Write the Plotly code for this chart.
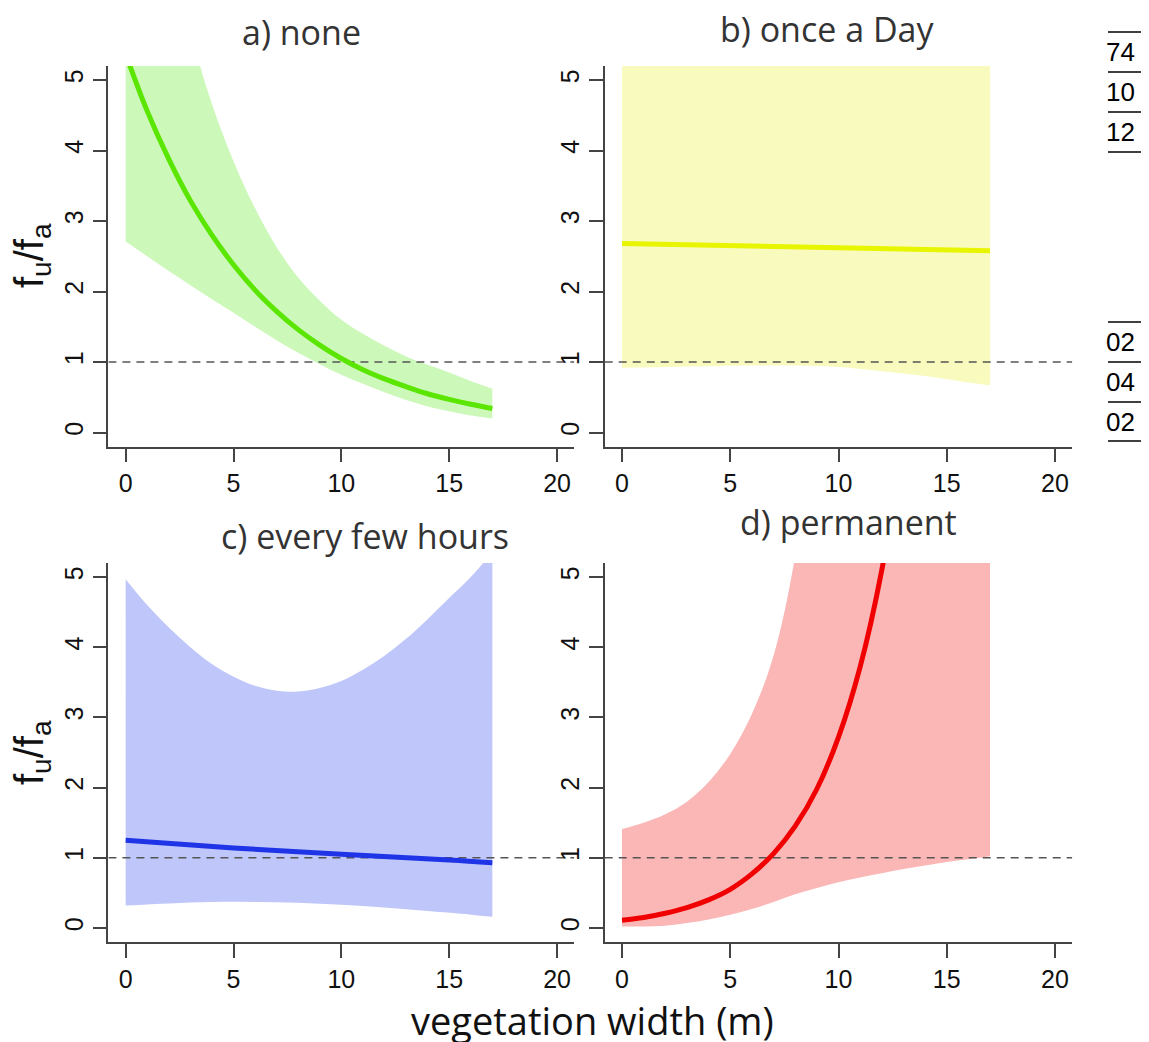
import plotly.graph_objects as go

# page body has an 8px margin, so the figure itself is 8px smaller
OFF = 8
W, H = 1149 - OFF, 1042 - OFF

# ---------------- data ----------------
# a) none
a_x = [0, 1, 2, 3, 4, 5, 6, 7, 8, 9, 10, 11, 12, 13, 14, 15, 16, 17]
a_fit = [5.37, 4.56, 3.88, 3.29, 2.80, 2.38, 2.02, 1.72, 1.46, 1.24, 1.05, 0.89, 0.76, 0.65, 0.55, 0.47, 0.40, 0.34]
a_upper = [10.5, 8.6, 7.0, 5.70, 4.66, 3.85, 3.18, 2.63, 2.20, 1.87, 1.60, 1.40, 1.23, 1.08, 0.96, 0.85, 0.73, 0.62]
a_lower = [2.71, 2.50, 2.29, 2.09, 1.89, 1.70, 1.50, 1.31, 1.13, 0.97, 0.82, 0.69, 0.57, 0.46, 0.37, 0.30, 0.24, 0.20]

# b) once a Day
b_x = [0, 17]
b_fit = [2.68, 2.58]
b_upper = [8.0, 8.0]
b_lx = [0, 2, 4, 6, 8, 10, 12, 14, 16, 17]
b_lower = [0.92, 0.93, 0.94, 0.95, 0.95, 0.93, 0.87, 0.80, 0.71, 0.67]

# c) every few hours
c_x = [0, 1, 2, 3, 4, 5, 6, 7, 8, 9, 10, 11, 12, 13, 14, 15, 16, 17]
c_upper = [4.97, 4.60, 4.28, 4.00, 3.76, 3.58, 3.45, 3.38, 3.37, 3.42, 3.52, 3.68, 3.88, 4.12, 4.40, 4.70, 5.00, 5.35]
c_fx = [0, 5, 10, 15, 17]
c_fit = [1.25, 1.14, 1.05, 0.97, 0.93]
c_lx = [0, 2, 4, 6, 8, 10, 12, 14, 16, 17]
c_lower = [0.32, 0.35, 0.37, 0.37, 0.36, 0.33, 0.29, 0.24, 0.19, 0.16]

# d) permanent
d_fx = [0, 1, 2, 3, 4, 5, 6, 7, 8, 9, 10, 11, 12, 13]
d_fit = [0.11, 0.15, 0.21, 0.29, 0.40, 0.55, 0.77, 1.06, 1.45, 1.98, 2.72, 3.72, 5.10, 7.00]
d_x = [0, 1, 2, 3, 4, 5, 6, 7, 8, 9, 10, 11, 12, 13, 14, 15, 16, 17]
d_upper = [1.41, 1.50, 1.62, 1.80, 2.08, 2.48, 3.05, 3.88, 5.30, 7.6, 10.5, 13.0, 15.0, 15.0, 15.0, 15.0, 15.0, 15.0]
d_lower = [0.02, 0.02, 0.03, 0.07, 0.12, 0.19, 0.27, 0.37, 0.48, 0.57, 0.65, 0.72, 0.78, 0.84, 0.89, 0.94, 0.98, 1.02]

titles = ["a) none", "b) once a Day", "c) every few hours", "d) permanent"]
x_ticks = [0, 5, 10, 15, 20]
y_ticks = [0, 1, 2, 3, 4, 5]
table_top = ["74", "10", "12"]
table_bottom = ["02", "04", "02"]

# ---------------- styling ----------------
band_cols = ["#ccf8b9", "#f8fbbd", "#bec6fa", "#fbb6b6"]
line_cols = ["#5ae600", "#e8f500", "#1e34e6", "#f00000"]


def px(x):
    return (x - OFF) / W


def py(y):
    return 1 - (y - OFF) / H


fig = go.Figure()

panels = [
    (a_x, a_lower, a_x, a_upper, a_x, a_fit),
    (b_lx, b_lower, b_x, b_upper, b_x, b_fit),
    (c_lx, c_lower, c_x, c_upper, c_fx, c_fit),
    (d_x, d_lower, d_x, d_upper, d_fx, d_fit),
]

xdoms = [[px(108.4), px(574.3)], [px(604.7), px(1072.3)]]
ydoms = [[py(446.6), py(66)], [py(942), py(563)]]

for i, (lx, lo, ux, up, fx, fit) in enumerate(panels):
    n = "" if i == 0 else str(i + 1)
    xa, ya = "x" + n, "y" + n
    fig.add_trace(go.Scatter(x=lx, y=lo, xaxis=xa, yaxis=ya, mode="lines",
                             line=dict(width=0, color=band_cols[i], shape="spline"),
                             showlegend=False, hoverinfo="skip"))
    fig.add_trace(go.Scatter(x=ux, y=up, xaxis=xa, yaxis=ya, mode="lines",
                             line=dict(width=0, color=band_cols[i], shape="spline"),
                             fill="tonexty", fillcolor=band_cols[i],
                             showlegend=False, hoverinfo="skip"))
    fig.add_trace(go.Scatter(x=[-0.8, 20.8], y=[1, 1], xaxis=xa, yaxis=ya, mode="lines",
                             line=dict(width=1.5, color="#555555", dash="8px,6px"),
                             showlegend=False, hoverinfo="skip"))
    fig.add_trace(go.Scatter(x=fx, y=fit, xaxis=xa, yaxis=ya, mode="lines",
                             line=dict(width=5, color=line_cols[i], shape="spline"),
                             showlegend=False))

    axis_common = dict(showline=True, linecolor="#444444", linewidth=1.5,
                       ticks="outside", ticklen=14, tickwidth=1.5, tickcolor="#444444",
                       showgrid=False, zeroline=False,
                       tickfont=dict(family="Liberation Sans", size=25, color="#111111"))
    xkey = "xaxis" + n
    ykey = "yaxis" + n
    fig.update_layout(**{
        xkey: dict(axis_common, domain=xdoms[i % 2], range=[-0.8, 20.8],
                   tickvals=x_ticks, anchor=ya),
        ykey: dict(axis_common, domain=ydoms[i // 2], range=[-0.2, 5.2],
                   tickvals=y_ticks, tickangle=-90, anchor=xa),
    })

annotations = []
title_pos = [(301, 32), (827, 29), (365, 536), (848, 522)]
for t, (tx, ty) in zip(titles, title_pos):
    annotations.append(dict(text=t, x=px(tx), y=py(ty), xref="paper", yref="paper",
                            showarrow=False, xanchor="center", yanchor="middle",
                            font=dict(family="Open Sans", size=34, color="#333333")))
for cy in (256, 753):
    annotations.append(dict(text="f<sub>u</sub>/f<sub>a</sub>", x=px(32), y=py(cy),
                            xref="paper", yref="paper", showarrow=False, textangle=-90,
                            xanchor="center", yanchor="middle",
                            font=dict(family="Liberation Sans", size=40, color="#111111")))
annotations.append(dict(text="vegetation width (m)", x=px(592), y=py(1020), xref="paper",
                        yref="paper", showarrow=False, xanchor="center", yanchor="middle",
                        font=dict(family="Open Sans", size=38, color="#111111")))

shapes = []
for k, t in enumerate(table_top):
    annotations.append(dict(text=t, x=px(1137), y=py(52 + 40 * k), xref="paper", yref="paper",
                            showarrow=False, xanchor="right", yanchor="middle",
                            font=dict(family="Liberation Sans", size=26, color="#000000")))
for k, t in enumerate(table_bottom):
    annotations.append(dict(text=t, x=px(1137), y=py(342 + 40 * k), xref="paper", yref="paper",
                            showarrow=False, xanchor="right", yanchor="middle",
                            font=dict(family="Liberation Sans", size=26, color="#000000")))
for ly in [32, 72, 112, 152, 322, 362, 402, 441]:
    shapes.append(dict(type="line", xref="paper", yref="paper", x0=px(1108), x1=px(1143),
                       y0=py(ly), y1=py(ly), line=dict(color="#000000", width=1.5)))

fig.update_layout(width=W, height=H, margin=dict(l=0, r=0, t=0, b=0),
                  paper_bgcolor="white", plot_bgcolor="white",
                  annotations=annotations, shapes=shapes, showlegend=False)

fig.write_html("out.html")
